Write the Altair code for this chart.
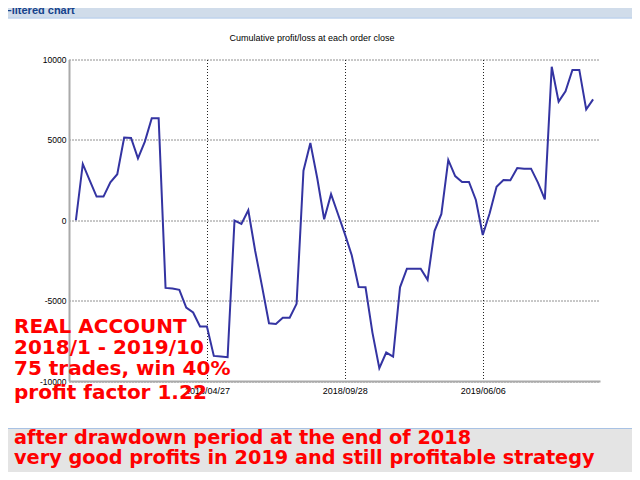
import altair as alt
import pandas as pd

# ---- data ----
trade_index = list(range(76))
cum_profit = [0, 3500, 2480, 1470, 1470, 2360, 2860, 5140, 5120, 3850, 4890, 6340, 6340,
              -4210, -4250, -4330, -5430, -5740, -6610, -6610, -8440, -8480, -8520, -20, -230, 620,
              -1910, -4130, -6410, -6450, -6060, -6060, -5200, 3080, 4810, 2610, 60, 1620, 390,
              -850, -2180, -4150, -4170, -6990, -9200, -8230, -8480, -4170, -3010, -3010, -3010, -3710,
              -670, 390, 3750, 2750, 2380, 2380, 1260, -920, 430, 2090, 2500, 2490, 3250,
              3210, 3210, 2340, 1300, 9550, 7380, 8020, 9350, 9350, 6900, 7520]
x_tick_positions = [19, 39, 59]
x_tick_labels = ["2018/04/27", "2018/09/28", "2019/06/06"]
y_tick_values = [-10000, -5000, 0, 5000, 10000]

window_title = "Filtered chart"
chart_title = "Cumulative profit/loss at each order close"
overlay_lines = ["REAL ACCOUNT", "2018/1 - 2019/10", "75 trades, win 40%", "profit factor 1.22"]
footer_lines = ["after drawdown period at the end of 2018",
                "very good profits in 2019 and still profitable strategy"]

df = pd.DataFrame({"i": trade_index, "pl": cum_profit})

W, H = 531, 321.5

label_expr = " : ".join(
    f"datum.value == {p} ? '{l}'" for p, l in zip(x_tick_positions, x_tick_labels)
) + " : ''"

one = alt.Data(values=[{}])

line = alt.Chart(df).mark_line(color="#3434a2", strokeWidth=2).encode(
    x=alt.X("i:Q",
            scale=alt.Scale(domain=[-1, 76], nice=False, zero=False),
            axis=alt.Axis(values=x_tick_positions, labelExpr=label_expr, title=None,
                          grid=True, gridDash=[1, 2], gridColor="#222222", gridWidth=1,
                          ticks=False, domainColor="#aaaaaa", domainWidth=2,
                          labelFont="Liberation Sans", labelFontSize=9, labelColor="#000000",
                          labelPadding=5, labelFlush=False)),
    y=alt.Y("pl:Q",
            scale=alt.Scale(domain=[-10000, 10000], nice=False),
            axis=alt.Axis(values=y_tick_values, labelExpr="datum.value + ''", title=None,
                          grid=True, gridDash=[1, 2], gridColor="#222222", gridWidth=1,
                          ticks=False, domainColor="#aaaaaa", domainWidth=2,
                          labelFont="Liberation Sans", labelFontSize=8.5, labelColor="#000000",
                          labelPadding=3)),
)

layers = []
# window title bar
layers.append(alt.Chart(one).mark_rect(color="#d0dcea").encode(
    x=alt.value(-80), x2=alt.value(W + 50), y=alt.value(-70), y2=alt.value(-42)))
layers.append(alt.Chart(one).mark_rect(color="#9fbde4").encode(
    x=alt.value(-80), x2=alt.value(W + 50), y=alt.value(-42), y2=alt.value(-41)))
layers.append(alt.Chart(one).mark_text(align="left", baseline="alphabetic", fontWeight="bold",
                                       font="Liberation Sans", fontSize=11, color="#15428b").encode(
    x=alt.value(-64), y=alt.value(-46), text=alt.value(window_title)))
# bottom grey area
layers.append(alt.Chart(one).mark_rect(color="#e4e4e4").encode(
    x=alt.value(-80), x2=alt.value(W + 50), y=alt.value(369.5), y2=alt.value(430)))
layers.append(alt.Chart(one).mark_rect(color="#a8c2e4").encode(
    x=alt.value(-80), x2=alt.value(W + 50), y=alt.value(368.5), y2=alt.value(369.5)))
# chart title
layers.append(alt.Chart(one).mark_text(align="center", baseline="middle",
                                       font="Liberation Sans", fontSize=9, color="#000000").encode(
    x=alt.value(243), y=alt.value(-21.5), text=alt.value(chart_title)))

layers.append(line)

overlay_y = [273.5, 294.5, 315.5, 339.5]
for t, yy in zip(overlay_lines, overlay_y):
    layers.append(alt.Chart(one).mark_text(align="left", baseline="alphabetic", fontWeight="bold",
                                           font="DejaVu Sans", fontSize=20, color="#ff0000").encode(
        x=alt.value(-55), y=alt.value(yy), text=alt.value(t)))
footer_y = [384.5, 404.5]
for t, yy in zip(footer_lines, footer_y):
    layers.append(alt.Chart(one).mark_text(align="left", baseline="alphabetic", fontWeight="bold",
                                           font="DejaVu Sans", fontSize=19.3, color="#ff0000").encode(
        x=alt.value(-55), y=alt.value(yy), text=alt.value(t)))

chart = alt.layer(*layers).properties(
    width=W, height=H,
    autosize=alt.AutoSizeParams(type="none"),
    padding={"left": 61, "top": 51.5, "right": 32, "bottom": 91},
    background="#ffffff",
).configure_view(stroke=None)

chart.save("out.html", embed_options={"renderer": "svg", "actions": False})
